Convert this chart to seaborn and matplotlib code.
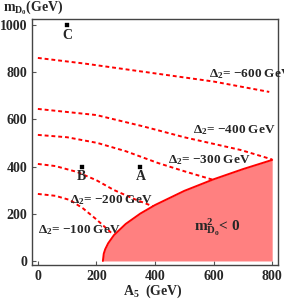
import numpy as np
import pandas as pd
import seaborn as sns
import matplotlib
matplotlib.use('Agg')
import matplotlib.pyplot as plt

# boundary of the m_D0^2 < 0 region
a5_edge = [222, 225, 230, 240, 260, 300, 350, 400, 500, 600, 700, 800]
m_edge = [0, 31, 50, 75, 110, 157, 201, 237, 297, 346, 389, 428]

# constant Delta_2 contours (GeV)
delta_labels = ['\u2212600', '\u2212400', '\u2212300', '\u2212200', '\u2212100']
a5_curves = [
    [0, 160, 386, 600, 790],
    [0, 200, 360, 500, 693, 800],
    [0, 100, 203, 300, 410, 500, 595],
    [0, 60, 134, 200, 259, 330, 392],
    [0, 60, 110, 155, 200, 250],
]
m_curves = [
    [860, 836, 797, 760, 716],
    [644, 618, 570, 524, 470, 430],
    [534, 524, 500, 465, 415, 380, 345],
    [411, 402, 377, 342, 301, 262, 232],
    [284, 276, 258, 222, 176, 120],
]
# label anchor (left edge, centre) of each contour label
label_x = [583, 531, 445, 110, 0]
label_y = [790, 555, 428, 258, 131]

# benchmark points
pt_names = ['A', 'B', 'C']
pt_a5 = [350, 150, 100]
pt_m = [400, 400, 1000]

sns.set_style('white')
plt.rcParams['font.family'] = ['Liberation Serif', 'DejaVu Serif']
plt.rcParams['font.weight'] = 'bold'
plt.rcParams['mathtext.fontset'] = 'custom'
plt.rcParams['mathtext.rm'] = 'Liberation Serif:bold'
plt.rcParams['mathtext.it'] = 'Liberation Serif:bold'
plt.rcParams['mathtext.bf'] = 'Liberation Serif:bold'

fig = plt.figure(figsize=(2.84, 2.99), dpi=100)
ax = fig.add_axes([0.1127, 0.1137, 0.8663, 0.8213])

red = '#ff0000'
ax.fill_between(a5_edge, 0, m_edge, color='#ff8080', lw=0, zorder=1)
sns.lineplot(x=a5_edge, y=m_edge, sort=False, color=red, lw=1.4, ax=ax, zorder=3)

for xs, ys in zip(a5_curves, m_curves):
    sns.lineplot(x=xs, y=ys, sort=False, color=red, lw=1.4, ax=ax, zorder=2,
                 linestyle=(0, (2.0, 1.5)))

for lab, lx, ly in zip(delta_labels, label_x, label_y):
    ax.text(lx, ly, r'$\Delta_2$= ' + lab + ' GeV', fontsize=9.5, fontweight='bold',
            ha='left', va='center', zorder=4)

pts = pd.DataFrame({'name': pt_names, 'A5': pt_a5, 'm': pt_m})
sns.scatterplot(data=pts, x='A5', y='m', marker='s', s=9, color='black',
                edgecolor='black', ax=ax, zorder=5)
for _, r in pts.iterrows():
    ax.text(r['A5'], r['m'] - 16, r['name'], fontsize=10, fontweight='bold',
            ha='center', va='top', zorder=5)

ax.text(614, 144, r'$\mathrm{m}^2_{\mathrm{D}_0}$< 0', fontsize=11, fontweight='bold',
        ha='center', va='center', zorder=4)

ax.set_xlim(-20, 820)
ax.set_ylim(-17, 1023)
ax.set_xticks([0, 200, 400, 600, 800])
ax.set_yticks([0, 200, 400, 600, 800, 1000])
ax.tick_params(direction='in', length=3, width=0.8, color='#555555', pad=3.5,
               labelsize=10, bottom=True, left=True)
for lbl in ax.get_xticklabels() + ax.get_yticklabels():
    lbl.set_fontweight('bold')
for sp in ax.spines.values():
    sp.set_color('#444444')
    sp.set_linewidth(1.0)
ax.set_xlabel('')
ax.set_ylabel('')

fig.text(0.01, 0.972, r'$\mathrm{m}_{\mathrm{D}_0}$(GeV)', fontsize=10, fontweight='bold',
         ha='left', va='center')
fig.text(0.54, 0.024, r'$\mathrm{A}_5$  (GeV)', fontsize=10, fontweight='bold',
         ha='center', va='center')

fig.savefig('out.png', dpi=100)
